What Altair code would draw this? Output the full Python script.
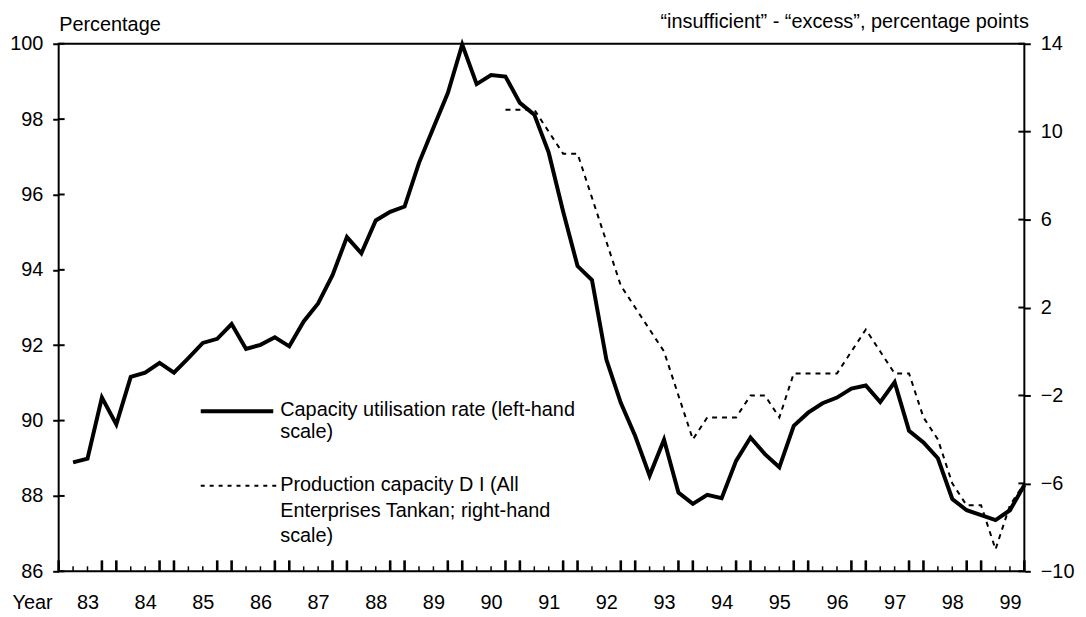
import json
import altair as alt
import pandas as pd

# ---------------- data (quarterly index: 0 = start of 1983) ----------------
cap_quarters = list(range(1, 68))
capacity = [
    88.89, 88.99, 90.61, 89.90, 91.16, 91.27, 91.53, 91.27, 91.66, 92.06,
    92.17, 92.56, 91.90, 92.01, 92.21, 91.97, 92.63, 93.11, 93.86, 94.87,
    94.44, 95.31, 95.54, 95.68, 96.84, 97.77, 98.69, 99.98, 98.93, 99.17,
    99.13, 98.43, 98.12, 97.11, 95.55, 94.10, 93.73, 91.62, 90.47, 89.59,
    88.54, 89.49, 88.09, 87.79, 88.03, 87.94, 88.93, 89.55, 89.11, 88.76,
    89.86, 90.21, 90.46, 90.61, 90.85, 90.93, 90.49, 91.02, 89.73, 89.42,
    89.00, 87.92, 87.62, 87.49, 87.36, 87.62, 88.29,
]
di_quarters = list(range(31, 68))
di_values = [
    11, 11, 11, 10, 9, 9, 7, 5, 3, 2,
    1, 0, -2, -4, -3, -3, -3, -2, -2, -3,
    -1, -1, -1, -1, 0, 1, 0, -1, -1, -3,
    -4, -6, -7, -7, -9, -7, -6,
]
years = ["83", "84", "85", "86", "87", "88", "89", "90", "91",
         "92", "93", "94", "95", "96", "97", "98", "99"]
left_ticks = [86, 88, 90, 92, 94, 96, 98, 100]
right_ticks = [14, 10, 6, 2, -2, -6, -10]
legend_labels = [
    "Capacity utilisation rate (left-hand\nscale)",
    "Production capacity D I (All\nEnterprises Tankan; right-hand\nscale)",
]
left_title = "Percentage"
right_title = "\u201cinsufficient\u201d - \u201cexcess\u201d, percentage points"
x_title = "Year"

# ---------------- derived tables ----------------
n_quarters = 4 * len(years) - 1
quarter_ticks = list(range(0, n_quarters + 1))
tick_df = pd.DataFrame({"t": quarter_ticks,
                        "tall": [(q % 4) in (0, 3) for q in quarter_ticks]})
label_pos = [4 * i + 2 for i in range(len(years))]
cap_df = pd.DataFrame({"t": cap_quarters, "value": capacity})
di_df = pd.DataFrame({"t": di_quarters, "value": di_values})
left_tick_df = pd.DataFrame({"value": left_ticks})
right_tick_df = pd.DataFrame({"value": right_ticks})
legend_df = pd.DataFrame({"label": legend_labels, "series": ["cap", "di"]})

W, H = 972, 531
FONT = "Liberation Sans"
FS = 20

x_enc = alt.X(
    "t:Q",
    scale=alt.Scale(domain=[0, n_quarters], nice=False, zero=False),
    axis=alt.Axis(
        values=label_pos,
        labelExpr=f"{json.dumps(years)}[(datum.value - 2) / 4]",
        tickSize=0, domain=False, grid=False, labelPadding=21,
        labelFont=FONT, labelFontSize=FS, labelColor="black",
        title=x_title, titleX=-47, titleY=21, titleAlign="left",
        titleBaseline="top", titleFontWeight="normal",
        titleFont=FONT, titleFontSize=FS, titleColor="black",
    ),
)

y_left = alt.Y(
    "value:Q",
    scale=alt.Scale(domain=[86, 100], nice=False, zero=False),
    axis=alt.Axis(
        orient="left", values=left_ticks, format="d", tickSize=6,
        tickWidth=2, tickColor="black", labelPadding=10, domain=False,
        grid=False, labelFont=FONT, labelFontSize=FS, labelColor="black",
        title=left_title, titleAngle=0, titleX=0, titleY=-13,
        titleAlign="left", titleBaseline="alphabetic",
        titleFontWeight="normal", titleFont=FONT, titleFontSize=FS,
        titleColor="black",
    ),
)
y_right = alt.Y(
    "value:Q",
    scale=alt.Scale(domain=[-10, 14], nice=False, zero=False),
    axis=alt.Axis(
        orient="right", values=right_ticks, format="d", tickSize=6,
        tickWidth=2, tickColor="black", labelPadding=10, domain=False,
        grid=False, labelFont=FONT, labelFontSize=FS, labelColor="black",
        title=right_title, titleAngle=0, titleX=4, titleY=-16,
        titleAlign="right", titleBaseline="alphabetic",
        titleFontWeight="normal", titleFont=FONT, titleFontSize=FS,
        titleColor="black",
    ),
)

cap_line = alt.Chart(cap_df).mark_line(
    color="black", strokeWidth=4, strokeJoin="miter"
).encode(x=x_enc, y=y_left)

left_inner = alt.Chart(left_tick_df).mark_rule(color="black", strokeWidth=2).encode(
    x=alt.value(0), x2=alt.value(6), y=y_left
)

tall_ticks = alt.Chart(tick_df).transform_filter("datum.tall").mark_rule(
    color="black", strokeWidth=2.6
).encode(x=x_enc, y=alt.value(H), y2=alt.value(H - 11))
short_ticks = alt.Chart(tick_df).transform_filter("!datum.tall").mark_rule(
    color="black", strokeWidth=1.5
).encode(x=x_enc, y=alt.value(H), y2=alt.value(H - 5))

leg_cap_line = alt.Chart(legend_df).transform_filter("datum.series == 'cap'").mark_rule(
    color="black", strokeWidth=4
).encode(x=alt.value(143), x2=alt.value(216), y=alt.value(370))
leg_di_line = alt.Chart(legend_df).transform_filter("datum.series == 'di'").mark_rule(
    color="black", strokeWidth=2, strokeDash=[4, 5]
).encode(x=alt.value(143), x2=alt.value(220), y=alt.value(445))

leg_cap_text = alt.Chart(legend_df).transform_filter("datum.series == 'cap'").mark_text(
    align="left", baseline="alphabetic", lineBreak="\n", lineHeight=22,
    font=FONT, fontSize=FS, color="black"
).encode(text="label:N", x=alt.value(223), y=alt.value(375))
leg_di_text = alt.Chart(legend_df).transform_filter("datum.series == 'di'").mark_text(
    align="left", baseline="alphabetic", lineBreak="\n", lineHeight=26,
    font=FONT, fontSize=FS, color="black"
).encode(text="label:N", x=alt.value(223), y=alt.value(450))

di_line = alt.Chart(di_df).mark_line(
    color="black", strokeWidth=2, strokeDash=[5, 5]
).encode(x=x_enc, y=y_right)
right_inner = alt.Chart(right_tick_df).mark_rule(color="black", strokeWidth=2).encode(
    x=alt.value(W - 6), x2=alt.value(W), y=y_right
)

left_layer = alt.layer(cap_line, left_inner, tall_ticks, short_ticks,
                       leg_cap_line, leg_di_line, leg_cap_text, leg_di_text)
right_layer = alt.layer(di_line, right_inner)

chart = alt.layer(left_layer, right_layer).resolve_scale(y="independent").properties(
    width=W, height=H,
    background="white",
    autosize=alt.AutoSizeParams(type="none"),
    padding={"left": 51, "top": 34, "right": 54, "bottom": 42},
).configure_view(
    stroke="black", strokeWidth=2
).configure_axis(
    labelFont=FONT, labelFontSize=FS, labelColor="black",
    titleFont=FONT, titleFontSize=FS, titleColor="black",
)

chart.save("out.html", embed_options={"renderer": "svg", "actions": False})
